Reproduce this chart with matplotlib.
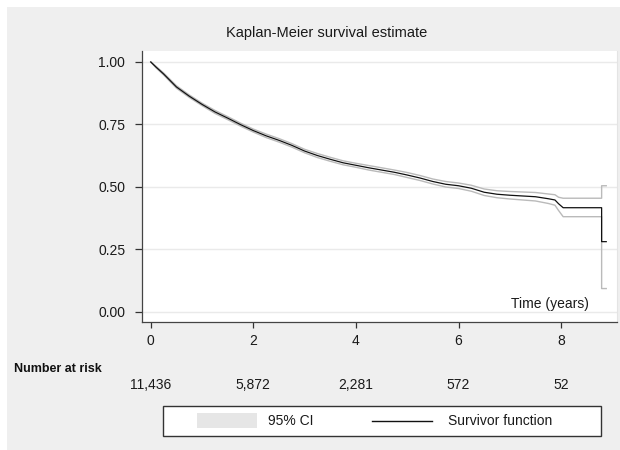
import matplotlib
matplotlib.use("Agg")
import matplotlib.pyplot as plt
from matplotlib.patches import Rectangle
from matplotlib.lines import Line2D
import matplotlib.transforms as mtransforms

plt.rcParams['font.family'] = ['Liberation Sans', 'DejaVu Sans']

# Kaplan-Meier estimate with 95% confidence bounds
time = [0, 0.1, 0.25, 0.5, 0.75, 1.0, 1.25, 1.5, 1.75, 2.0, 2.25, 2.5, 2.75,
        3.0, 3.25, 3.5, 3.75, 4.0, 4.25, 4.5, 4.75, 5.0, 5.25, 5.5, 5.75,
        6.0, 6.25, 6.5, 6.75, 7.0, 7.25, 7.5, 7.75, 7.88, 7.95, 8.04,
        8.79, 8.79, 8.88]
survival = [1.000, 0.980, 0.952, 0.900, 0.863, 0.830, 0.800, 0.775, 0.749,
            0.725, 0.704, 0.686, 0.666, 0.643, 0.625, 0.610, 0.596, 0.586,
            0.576, 0.567, 0.558, 0.547, 0.535, 0.521, 0.510, 0.504, 0.494,
            0.478, 0.470, 0.466, 0.463, 0.460, 0.452, 0.447, 0.432, 0.416,
            0.416, 0.280, 0.280]
ci_upper = [1.000, 0.983, 0.956, 0.905, 0.868, 0.835, 0.806, 0.781, 0.755,
            0.731, 0.711, 0.693, 0.673, 0.650, 0.633, 0.618, 0.604, 0.594,
            0.585, 0.576, 0.567, 0.557, 0.545, 0.531, 0.521, 0.515, 0.506,
            0.491, 0.484, 0.481, 0.479, 0.477, 0.471, 0.468, 0.458, 0.454,
            0.454, 0.504, 0.504]
ci_lower = [1.000, 0.977, 0.948, 0.895, 0.858, 0.825, 0.794, 0.769, 0.743,
            0.719, 0.697, 0.679, 0.659, 0.636, 0.617, 0.602, 0.588, 0.578,
            0.567, 0.558, 0.549, 0.537, 0.525, 0.511, 0.499, 0.493, 0.482,
            0.465, 0.456, 0.451, 0.447, 0.443, 0.433, 0.426, 0.405, 0.380,
            0.380, 0.092, 0.092]

# Risk table
risk_times = [0, 2, 4, 6, 8]
risk_counts = ["11,436", "5,872", "2,281", "572", "52"]

x_ticks = [0, 2, 4, 6, 8]
y_ticks = [0.00, 0.25, 0.50, 0.75, 1.00]

W, H = 620, 450
fig = plt.figure(figsize=(W / 100, H / 100), dpi=100, facecolor='white')

# gray graph region
fig.patches.append(Rectangle((7 / W, 0), 1 - 7 / W, 1 - 7 / H,
                             transform=fig.transFigure, facecolor='#efefef',
                             edgecolor='none', zorder=-5))

ax = fig.add_axes([141.7 / W, 1 - 321.5 / H, (616.5 - 141.7) / W, (321.5 - 51) / H])
ax.set_zorder(1)
ax.set_facecolor('white')
ax.set_xlim(-0.177, 9.08)
ax.set_ylim(-0.040, 1.044)

for y in y_ticks:
    ax.axhline(y, color='#eaeaea', lw=1.0, zorder=1)

ax.plot(time, ci_upper, color='#bababa', lw=1.0, zorder=2)
ax.plot(time, ci_lower, color='#bababa', lw=1.0, zorder=2)
ax.plot(time, survival, color='#111111', lw=0.9, zorder=3)

ax.set_xticks(x_ticks)
ax.set_xticklabels([str(v) for v in x_ticks])
ax.set_yticks(y_ticks)
ax.set_yticklabels([f"{v:.2f}" for v in y_ticks])
ax.tick_params(axis='y', length=5.3, width=0.9, color='#333333', pad=6.5,
               labelsize=10, labelcolor='#1a1a1a')
ax.tick_params(axis='x', length=4, width=0.9, color='#333333', pad=5,
               labelsize=10, labelcolor='#1a1a1a')

for side in ('left', 'bottom'):
    ax.spines[side].set_color('#444444')
    ax.spines[side].set_linewidth(0.9)
ax.spines['top'].set_visible(False)
ax.spines['right'].set_color('#e4e4e4')
ax.spines['right'].set_linewidth(0.8)

ax.text(8.545, 0.030, "Time (years)", ha='right', va='center', fontsize=10,
        color='#1a1a1a')

fig.text(326.5 / W, 1 - 33 / H, "Kaplan-Meier survival estimate",
         ha='center', va='center', fontsize=10.5, color='#1a1a1a')

fig.text(14 / W, 1 - 369 / H, "Number at risk", ha='left', va='center',
         fontsize=9, fontweight='bold', color='#111111')

trans = mtransforms.blended_transform_factory(ax.transData, fig.transFigure)
for t, n in zip(risk_times, risk_counts):
    fig.text(t, 1 - 385 / H, n, transform=trans, ha='center', va='center',
             fontsize=10, color='#1a1a1a')

# legend box
fig.patches.append(Rectangle((163 / W, 1 - 436 / H), (601 - 163) / W, 30 / H,
                             transform=fig.transFigure, facecolor='white',
                             edgecolor='#333333', lw=1.0, zorder=2))
fig.patches.append(Rectangle((197 / W, 1 - 428 / H), 60 / W, 15 / H,
                             transform=fig.transFigure, facecolor='#e6e6e6',
                             edgecolor='none', zorder=3))
fig.text(268 / W, 1 - 421 / H, "95% CI", ha='left', va='center', fontsize=10,
         color='#1a1a1a')
fig.lines.append(Line2D([372 / W, 432 / W], [1 - 421 / H, 1 - 421 / H],
                        transform=fig.transFigure, color='#111111', lw=1.0,
                        zorder=5))
fig.text(448 / W, 1 - 421 / H, "Survivor function", ha='left', va='center',
         fontsize=10, color='#1a1a1a')

fig.savefig("out.png", dpi=100, facecolor=fig.get_facecolor())
